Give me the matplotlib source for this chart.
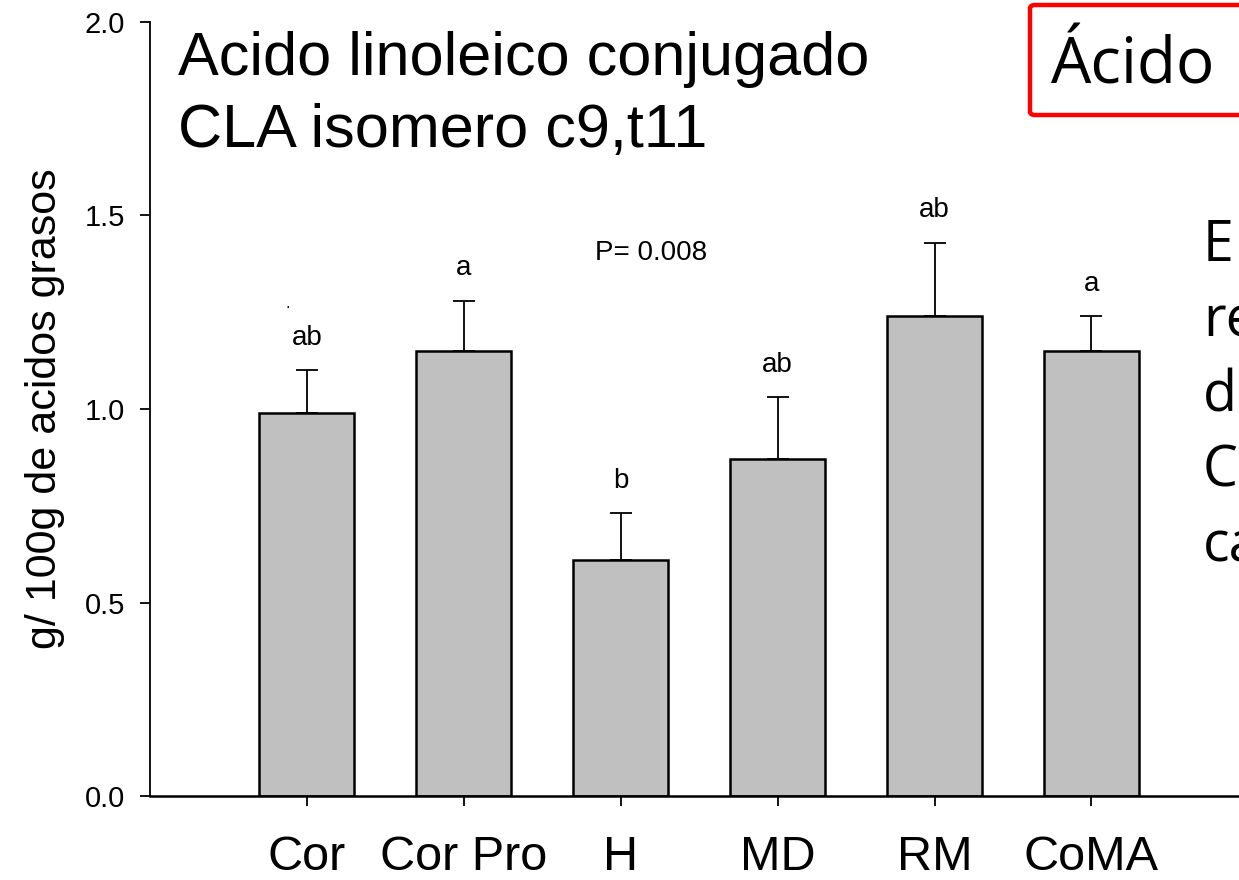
import matplotlib
matplotlib.use("Agg")
import matplotlib.pyplot as plt
from matplotlib.patches import FancyBboxPatch

# data
groups = ["Cor", "Cor Pro", "H", "MD", "RM", "CoMA"]
means = [0.99, 1.15, 0.61, 0.87, 1.24, 1.15]
errors = [0.11, 0.13, 0.12, 0.16, 0.19, 0.09]
letters = ["ab", "a", "b", "ab", "ab", "a"]
p_text = "P= 0.008"
side_lines = ["E", "re", "d", "C", "ca"]

plt.rcParams["font.family"] = ["Liberation Sans", "DejaVu Sans"]

W, H = 1239, 880
fig = plt.figure(figsize=(W / 100, H / 100), dpi=100)
ax = fig.add_axes([150 / W, 1 - 796 / H, 1 - 150 / W, (796 - 22) / H])

x = list(range(len(groups)))
ax.bar(x, means, width=0.605, color="#c0c0c0", edgecolor="black", linewidth=1.8, zorder=2)
ax.errorbar(x, means, yerr=[[0] * len(errors), errors], fmt="none", ecolor="black",
            elinewidth=1.3, capsize=8, capthick=1.3, zorder=1)

for xi, m, e, lab in zip(x, means, errors, letters):
    ax.annotate(lab, (xi, m + e), xytext=(0, 14), textcoords="offset points",
                ha="center", va="bottom", fontsize=20)

ax.text(2.19, 1.385, p_text, ha="center", va="baseline", fontsize=20)
ax.text(-0.12, 1.262, ".", ha="center", va="baseline", fontsize=12)

ax.set_xlim(-1, 5.94)
ax.set_ylim(0, 2.0)
ax.set_yticks([0, 0.5, 1.0, 1.5, 2.0])
ax.set_yticklabels(["0.0", "0.5", "1.0", "1.5", "2.0"])
ax.set_xticks(x)
ax.set_xticklabels(groups)
ax.tick_params(axis="y", length=7, width=1.3, pad=11, labelsize=21, direction="out")
ax.tick_params(axis="x", length=7, width=1.3, pad=21, labelsize=35, direction="out")

for s in ["top", "right"]:
    ax.spines[s].set_visible(False)
ax.spines["left"].set_linewidth(1.3)
ax.spines["bottom"].set_linewidth(1.8)

ax.set_ylabel("g/ 100g de acidos grasos", fontsize=31)
ax.yaxis.label.set_va("center")
ax.yaxis.set_label_coords((45 - 150) / (W - 150), 0.5)

# title lines
fig.text(178 / W, 1 - 75 / H, "Acido linoleico conjugado", fontsize=44, va="baseline", ha="left")
fig.text(178 / W, 1 - 147 / H, "CLA isomero c9,t11", fontsize=44, va="baseline", ha="left")

# red box overlay on the right
box = FancyBboxPatch((1030 / W, 1 - 115 / H), 0.3, 110 / H,
                     boxstyle="round,pad=0,rounding_size=0.004",
                     transform=fig.transFigure, facecolor="white",
                     edgecolor="#ff0000", linewidth=3.2, zorder=5)
fig.add_artist(box)
fig.text(1050 / W, 1 - 83 / H, "Ácido", fontsize=46, family="Open Sans",
         va="baseline", ha="left", zorder=6)

for i, t in enumerate(side_lines):
    fig.text(1203 / W, 1 - (261 + 75 * i) / H, t, fontsize=40, family="Open Sans",
             va="baseline", ha="left")

fig.savefig("out.png", dpi=100)
